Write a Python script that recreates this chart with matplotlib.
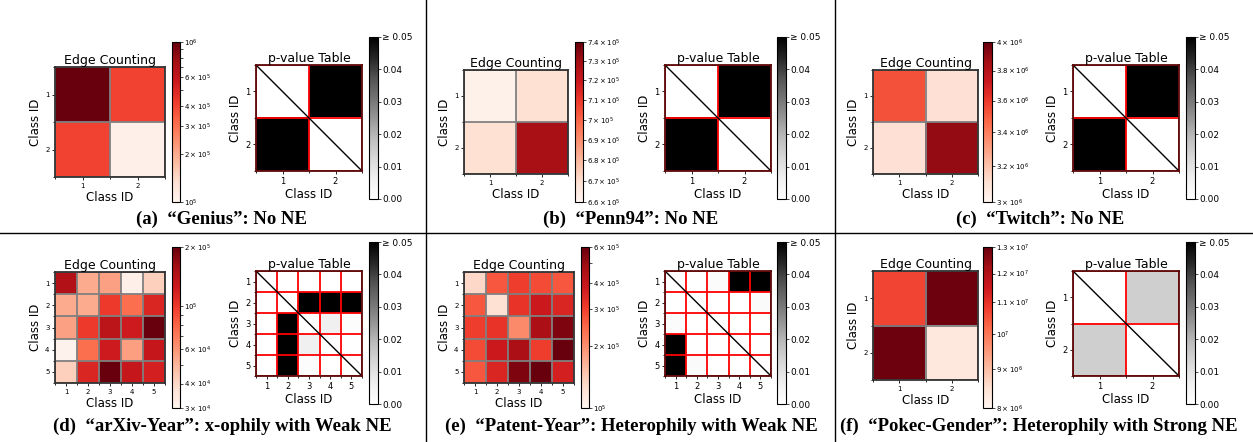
import numpy as np
import matplotlib
matplotlib.use("Agg")
import matplotlib.pyplot as plt
from matplotlib.colors import LogNorm
from matplotlib.lines import Line2D

# ---- data ----
captions = [
    "(a)  \u201cGenius\u201d: No NE",
    "(b)  \u201cPenn94\u201d: No NE",
    "(c)  \u201cTwitch\u201d: No NE",
    "(d)  \u201carXiv-Year\u201d: x-ophily with Weak NE",
    "(e)  \u201cPatent-Year\u201d: Heterophily with Weak NE",
    "(f)  \u201cPokec-Gender\u201d: Heterophily with Strong NE",
]

genius_counts = [[1.0e6, 4.0e5],
                 [4.0e5, 1.08e5]]
genius_range = (1e5, 1e6)
genius_pvals = [[0.0, 0.05],
                [0.05, 0.0]]

penn94_counts = [[6.62e5, 6.69e5],
                 [6.69e5, 7.28e5]]
penn94_range = (6.6e5, 7.4e5)
penn94_pvals = [[0.0, 0.05],
                [0.05, 0.0]]

twitch_counts = [[3.53e6, 3.1e6],
                 [3.1e6, 3.89e6]]
twitch_range = (3e6, 4e6)
twitch_pvals = [[0.0, 0.05],
                [0.05, 0.0]]

arxiv_counts = [[1.45e5, 5.3e4, 5.6e4, 3.2e4, 4.2e4],
                [5.3e4, 5.3e4, 9.9e4, 7.5e4, 1.13e5],
                [5.6e4, 9.9e4, 1.37e5, 1.22e5, 2.0e5],
                [3.1e4, 7.5e4, 1.22e5, 5.7e4, 1.29e5],
                [4.2e4, 1.13e5, 2.0e5, 1.29e5, 1.18e5]]
arxiv_range = (3e4, 2e5)
arxiv_pvals = [[0.0, 0.0, 0.0, 0.0, 0.0],
               [0.0, 0.0, 0.05, 0.05, 0.05],
               [0.0, 0.05, 0.0, 0.006, 0.001],
               [0.0, 0.05, 0.006, 0.0, 0.0],
               [0.0, 0.05, 0.001, 0.0, 0.0]]

patent_counts = [[1.31e5, 2.68e5, 3.04e5, 2.83e5, 2.68e5],
                 [2.68e5, 1.24e5, 3.2e5, 3.83e5, 3.5e5],
                 [3.04e5, 3.2e5, 2.05e5, 4.59e5, 5.49e5],
                 [2.83e5, 3.83e5, 4.59e5, 3.04e5, 6.0e5],
                 [2.68e5, 3.5e5, 5.49e5, 6.0e5, 3.63e5]]
patent_range = (1e5, 6e5)
patent_pvals = [[0.0, 0.0, 0.0015, 0.05, 0.05],
                [0.0, 0.0, 0.0, 0.0, 0.002],
                [0.0015, 0.0, 0.0, 0.0, 0.0],
                [0.05, 0.0, 0.0, 0.0, 0.0],
                [0.05, 0.002, 0.0, 0.0, 0.0]]

pokec_counts = [[1.07e7, 1.29e7],
                [1.29e7, 8.3e6]]
pokec_range = (8e6, 1.3e7)
pokec_pvals = [[0.0, 0.0145],
               [0.0145, 0.0]]

pval_ticks = [0.0, 0.01, 0.02, 0.03, 0.04, 0.05]
pval_ticklabels = ["0.00", "0.01", "0.02", "0.03", "0.04", "\u2265 0.05"]

# ---- layout (pixels) ----
W, H = 1253, 442


def rect(l, t, w, h):
    return [l / W, 1 - (t + h) / H, w / W, h / H]


panels = [
    (genius_counts, genius_range, genius_pvals,
     (55, 67, 110, 110), (172, 42, 8, 160), (256, 65, 106, 106), (369, 37, 9, 162), (222, 219)),
    (penn94_counts, penn94_range, penn94_pvals,
     (464, 70, 104, 104), (575, 42, 8, 160), (665, 65, 106, 106), (777, 37, 9, 162), (631, 219)),
    (twitch_counts, twitch_range, twitch_pvals,
     (873, 70, 105, 104), (983, 42, 9, 160), (1073, 65, 106, 106), (1186, 37, 9, 162), (1040, 219)),
    (arxiv_counts, arxiv_range, arxiv_pvals,
     (55, 272, 110, 111), (172, 247, 8, 161), (256, 271, 106, 105), (369, 242, 9, 162), (222, 426)),
    (patent_counts, patent_range, patent_pvals,
     (464, 272, 110, 111), (581, 247, 8, 161), (665, 271, 106, 105), (777, 242, 9, 162), (631, 426)),
    (pokec_counts, pokec_range, pokec_pvals,
     (873, 271, 105, 109), (983, 247, 9, 161), (1073, 271, 106, 105), (1186, 242, 9, 162), (1039, 426)),
]

fig = plt.figure(figsize=(W / 100, H / 100), dpi=100)


def setup_grid(ax, n, color, tick_fs):
    ids = list(range(1, n + 1))
    ax.set_xticks(range(n))
    ax.set_yticks(range(n))
    ax.set_xticklabels(ids, fontsize=tick_fs)
    ax.set_yticklabels(ids, fontsize=tick_fs)
    ax.set_xticks(np.arange(n + 1) - 0.5, minor=True)
    ax.set_yticks(np.arange(n + 1) - 0.5, minor=True)
    ax.grid(which="minor", color=color, linewidth=1.3)
    ax.tick_params(which="major", length=2, width=0.6, pad=2)
    ax.tick_params(which="minor", length=1.5, width=0.6)
    ax.set_xlabel("Class ID", fontsize=8.5, labelpad=2)
    ax.set_ylabel("Class ID", fontsize=8.5, labelpad=2)


for i, (counts, crange, pvals, hm, cb, pv, pcb, cap) in enumerate(panels):
    counts = np.array(counts)
    pvals = np.array(pvals)
    n = counts.shape[0]

    # edge counting heatmap
    ax = fig.add_axes(rect(*hm))
    im = ax.imshow(counts, cmap="Reds", norm=LogNorm(*crange),
                   aspect="auto", interpolation="nearest")
    setup_grid(ax, n, "gray", 5)
    ax.set_title("Edge Counting", fontsize=9, pad=2)
    for s in ax.spines.values():
        s.set_linewidth(1.3)
        s.set_color("#333333")
    cax = fig.add_axes(rect(*cb))
    cbar = fig.colorbar(im, cax=cax)
    cax.tick_params(which="both", labelsize=5, length=2, width=0.5, pad=1)
    cbar.outline.set_linewidth(0.8)

    # p-value table
    ax2 = fig.add_axes(rect(*pv))
    im2 = ax2.imshow(np.clip(pvals, 0, 0.05), cmap="Greys", vmin=0, vmax=0.05,
                     aspect="auto", interpolation="nearest")
    setup_grid(ax2, n, "red", 6)
    ax2.plot([-0.5, n - 0.5], [-0.5, n - 0.5], color="black", linewidth=1)
    ax2.set_xlim(-0.5, n - 0.5)
    ax2.set_ylim(n - 0.5, -0.5)
    ax2.set_title("p-value Table", fontsize=9, pad=2)
    for s in ax2.spines.values():
        s.set_linewidth(1.3)
        s.set_color("#5a0a0a")
    pcax = fig.add_axes(rect(*pcb))
    pbar = fig.colorbar(im2, cax=pcax, ticks=pval_ticks)
    pbar.set_ticklabels(pval_ticklabels)
    pcax.tick_params(labelsize=6.5, length=2, width=0.5, pad=1)
    pbar.outline.set_linewidth(0.8)

    fig.text(cap[0] / W, 1 - cap[1] / H, captions[i], ha="center", va="center",
             fontfamily="Liberation Serif", fontweight="bold", fontsize=13.5)

# separator lines
for x in (426, 835):
    fig.add_artist(Line2D([x / W, x / W], [0, 1], color="black", linewidth=1,
                          transform=fig.transFigure))
fig.add_artist(Line2D([0, 1], [1 - 233 / H, 1 - 233 / H], color="black", linewidth=1,
                      transform=fig.transFigure))

fig.savefig("out.png", dpi=100)
